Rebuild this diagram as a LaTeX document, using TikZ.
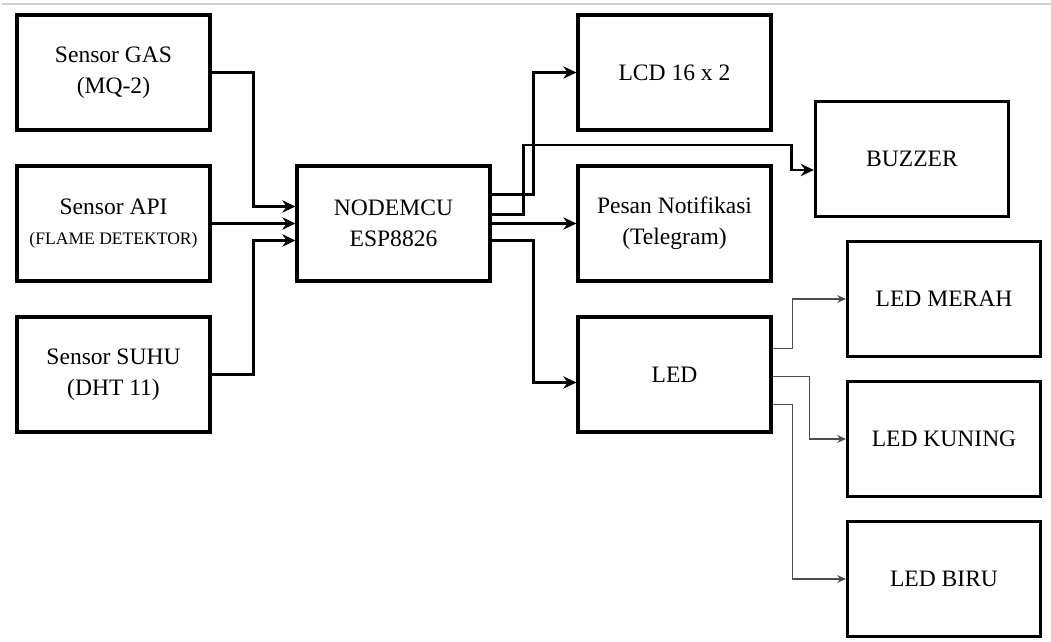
\documentclass[tikz,border=0pt]{standalone}
\usepackage{fontspec}
\setmainfont{Liberation Serif}
\usetikzlibrary{arrows.meta,calc}
\begin{document}
\begin{tikzpicture}[x=0.02cm, y=-0.02cm, line join=miter,
  blok/.style={draw, line width=1.8pt, minimum width=3.86cm, minimum height=2.3cm, align=center, font=\fontsize{13.4}{17.5}\selectfont},
  tebal/.style={line width=1.7pt, -{Stealth[length=7.5pt,width=7pt,inset=2.5pt]}},
  tipis/.style={line width=0.7pt, black!70, -{Stealth[length=5pt,width=4.5pt,inset=1.8pt]}}]
\useasboundingbox (0,0) rectangle (1051,642);
\draw[black!18, line width=0.8pt] (2,4) -- (1051,4);
% sensor
\node[blok] (gas) at (113.5,72.5) {Sensor GAS\\(MQ-2)};
\node[blok] (api) at (113.5,223.5) {Sensor API\\{\fontsize{10}{11}\selectfont(FLAME DETEKTOR)}};
\node[blok] (suhu) at (113.5,374.5) {Sensor SUHU\\(DHT 11)};
\node[blok] (mcu) at (393.5,223.5) {NODEMCU\\ESP8826};
% output
\node[blok] (lcd) at (674.5,72.5) {LCD 16 x 2};
\node[blok] (buzzer) at (912,159) {BUZZER};
\node[blok] (pesan) at (674.5,223.5) {Pesan Notifikasi\\(Telegram)};
\node[blok] (led) at (674.5,374.5) {LED};
\node[blok] (merah) at (944,299) {LED MERAH};
\node[blok] (kuning) at (944,439) {LED KUNING};
\node[blok] (biru) at (944,579) {LED BIRU};
\draw[tebal] (gas.east) -- ++(42,0) |- ($(mcu.west)+(0,-17)$);
\draw[tebal] (api.east) -- (mcu.west);
\draw[tebal] (suhu.east) -- ++(42,0) |- ($(mcu.west)+(0,17)$);
\draw[tebal] ($(mcu.east)+(0,-29)$) -- ++(42,0) |- (lcd.west);
\draw[tebal] ($(mcu.east)+(0,-9)$) -- ++(32,0) |- ($(buzzer.west)+(-22,-14)$) |- ($(buzzer.west)+(0,11)$);
\draw[tebal] (mcu.east) -- (pesan.west);
\draw[tebal] ($(mcu.east)+(0,17)$) -- ++(42,0) |- ($(led.west)+(0,8)$);
\draw[tipis] ($(led.east)+(0,-26)$) -- ++(20,0) |- (merah.west);
\draw[tipis] ($(led.east)+(0,2)$) -- ++(37,0) |- (kuning.west);
\draw[tipis] ($(led.east)+(0,30)$) -- ++(20,0) |- (biru.west);
\end{tikzpicture}
\end{document}
